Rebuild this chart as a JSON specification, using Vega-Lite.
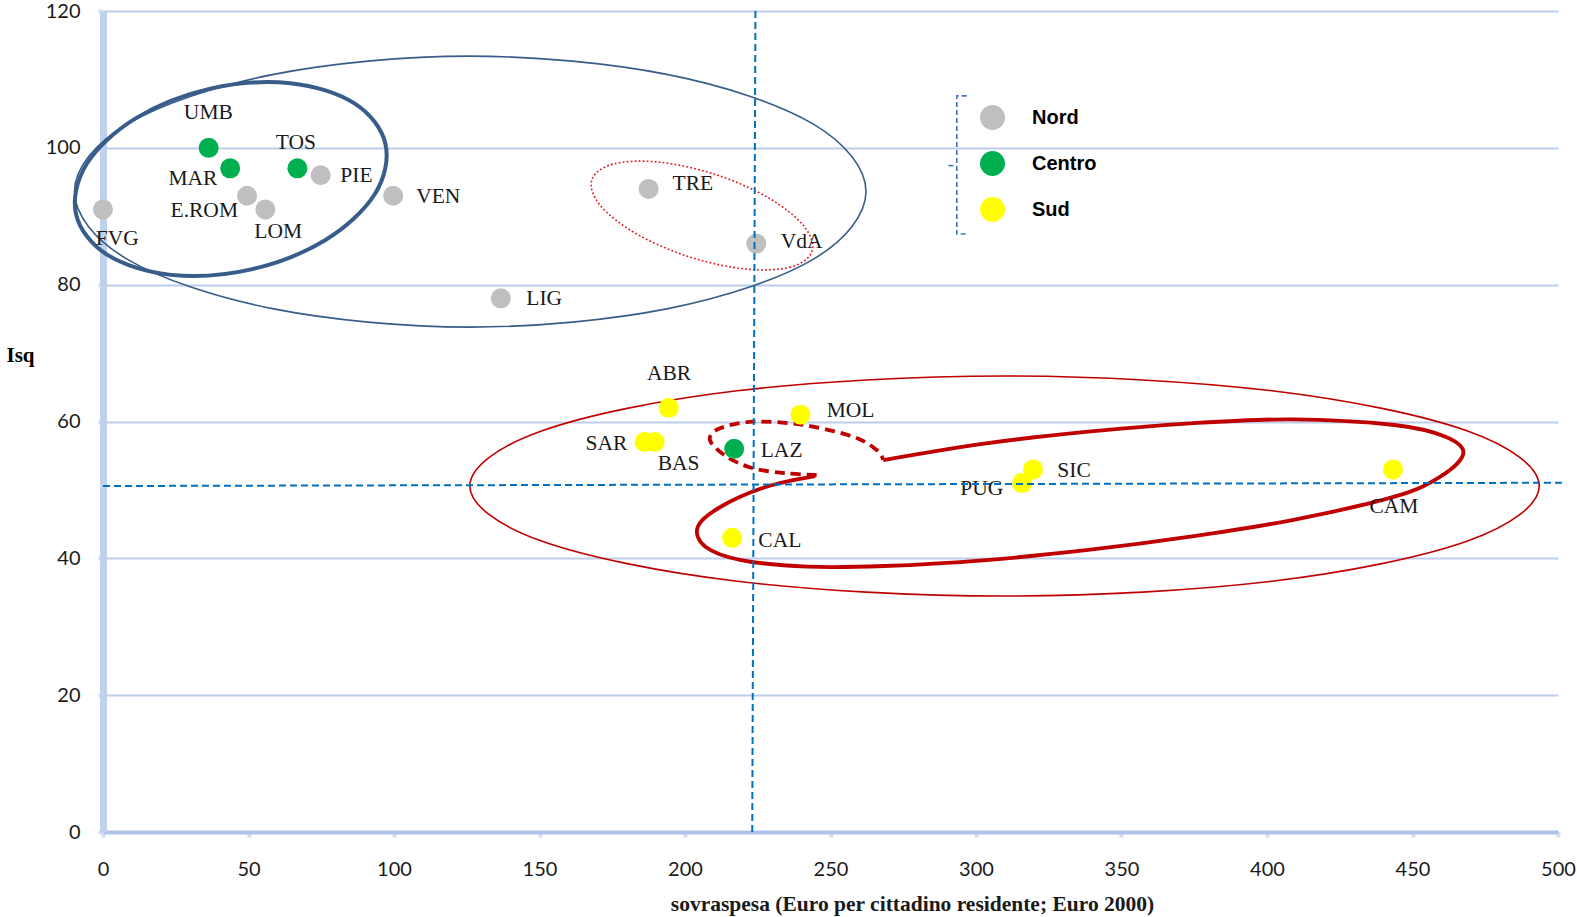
{
"$schema": "https://vega.github.io/schema/vega-lite/v6.json",
"width": 1455, "height": 821,
"autosize": {"type": "none"},
"padding": {"left": 103, "top": 11, "right": 19, "bottom": 85},
"background": "white",
"datasets": {
"pts": [
{"reg":"FVG","area":"Nord","x":0,"y":91},
{"reg":"UMB","area":"Centro","x":36.3,"y":100},
{"reg":"MAR","area":"Centro","x":43.7,"y":97},
{"reg":"TOS","area":"Centro","x":66.8,"y":97},
{"reg":"PIE","area":"Nord","x":74.8,"y":96},
{"reg":"E.ROM","area":"Nord","x":49.5,"y":93},
{"reg":"LOM","area":"Nord","x":55.8,"y":91},
{"reg":"VEN","area":"Nord","x":99.7,"y":93},
{"reg":"LIG","area":"Nord","x":136.7,"y":78},
{"reg":"TRE","area":"Nord","x":187.5,"y":94},
{"reg":"VdA","area":"Nord","x":224.5,"y":86},
{"reg":"ABR","area":"Sud","x":194.4,"y":62},
{"reg":"MOL","area":"Sud","x":239.7,"y":61},
{"reg":"SAR","area":"Sud","x":186.1,"y":57},
{"reg":"BAS","area":"Sud","x":189.6,"y":57},
{"reg":"LAZ","area":"Centro","x":216.9,"y":56},
{"reg":"SIC","area":"Sud","x":319.6,"y":53},
{"reg":"PUG","area":"Sud","x":315.8,"y":51},
{"reg":"CAM","area":"Sud","x":443.3,"y":53},
{"reg":"CAL","area":"Sud","x":216.2,"y":43}
],
"labs": [
{"reg":"FVG","x":4.9,"y":86.7},
{"reg":"UMB","x":36.2,"y":105.1},
{"reg":"MAR","x":30.9,"y":95.5},
{"reg":"TOS","x":66.3,"y":100.7},
{"reg":"PIE","x":87.1,"y":95.9},
{"reg":"E.ROM","x":34.8,"y":90.7},
{"reg":"LOM","x":60.2,"y":87.7},
{"reg":"VEN","x":115.2,"y":92.85},
{"reg":"LIG","x":151.6,"y":77.9},
{"reg":"TRE","x":202.7,"y":94.7},
{"reg":"VdA","x":240.1,"y":86.3},
{"reg":"ABR","x":194.5,"y":66.9},
{"reg":"MOL","x":256.9,"y":61.5},
{"reg":"SAR","x":173.0,"y":56.7},
{"reg":"BAS","x":197.8,"y":53.8},
{"reg":"LAZ","x":233.2,"y":55.7},
{"reg":"SIC","x":333.7,"y":52.8},
{"reg":"PUG","x":302.0,"y":50.1},
{"reg":"CAM","x":443.6,"y":47.5},
{"reg":"CAL","x":232.6,"y":42.6}
],
"shapes": [
{"s":"e1","i":0,"x":262.2,"y":93.6},{"s":"e1","i":1,"x":244.0,"y":103.5},{"s":"e1","i":2,"x":194.2,"y":110.7},{"s":"e1","i":3,"x":126.2,"y":113.4},{"s":"e1","i":4,"x":58.2,"y":110.7},{"s":"e1","i":5,"x":8.4,"y":103.5},{"s":"e1","i":6,"x":-9.8,"y":93.6},{"s":"e1","i":7,"x":8.4,"y":83.7},{"s":"e1","i":8,"x":58.2,"y":76.5},{"s":"e1","i":9,"x":126.2,"y":73.8},{"s":"e1","i":10,"x":194.2,"y":76.5},{"s":"e1","i":11,"x":244.0,"y":83.7},
{"s":"e2","i":0,"x":97.06,"y":100.57},{"s":"e2","i":1,"x":86.41,"y":106.49},{"s":"e2","i":2,"x":64.37,"y":109.45},{"s":"e2","i":3,"x":36.84,"y":108.65},{"s":"e2","i":4,"x":11.2,"y":104.31},{"s":"e2","i":5,"x":-5.67,"y":97.6},{"s":"e2","i":6,"x":-9.26,"y":90.3},{"s":"e2","i":7,"x":1.39,"y":84.39},{"s":"e2","i":8,"x":23.43,"y":81.43},{"s":"e2","i":9,"x":50.96,"y":82.23},{"s":"e2","i":10,"x":76.59,"y":86.57},{"s":"e2","i":11,"x":93.47,"y":93.28},
{"s":"e3","i":0,"x":243.62,"y":84.87},{"s":"e3","i":1,"x":236.26,"y":82.57},{"s":"e3","i":2,"x":220.73,"y":82.29},{"s":"e3","i":3,"x":201.21,"y":84.1},{"s":"e3","i":4,"x":182.92,"y":87.53},{"s":"e3","i":5,"x":170.76,"y":91.64},{"s":"e3","i":6,"x":168.0,"y":95.34},{"s":"e3","i":7,"x":175.36,"y":97.64},{"s":"e3","i":8,"x":190.89,"y":97.92},{"s":"e3","i":9,"x":210.41,"y":96.11},{"s":"e3","i":10,"x":228.7,"y":92.69},{"s":"e3","i":11,"x":240.86,"y":88.57},
{"s":"e4","i":0,"x":493.54,"y":50.57},{"s":"e4","i":1,"x":468.92,"y":58.61},{"s":"e4","i":2,"x":401.67,"y":64.49},{"s":"e4","i":3,"x":309.8,"y":66.65},{"s":"e4","i":4,"x":217.93,"y":64.49},{"s":"e4","i":5,"x":150.68,"y":58.61},{"s":"e4","i":6,"x":126.06,"y":50.57},{"s":"e4","i":7,"x":150.68,"y":42.53},{"s":"e4","i":8,"x":217.93,"y":36.65},{"s":"e4","i":9,"x":309.8,"y":34.49},{"s":"e4","i":10,"x":401.67,"y":36.65},{"s":"e4","i":11,"x":468.92,"y":42.53},
{"s":"sd","i":0,"x":245.24,"y":52.18},{"s":"sd","i":1,"x":234.93,"y":52.43},{"s":"sd","i":2,"x":223.44,"y":53.16},{"s":"sd","i":3,"x":214.3,"y":54.85},{"s":"sd","i":4,"x":208.56,"y":57.29},{"s":"sd","i":5,"x":212.0,"y":59.0},{"s":"sd","i":6,"x":223.44,"y":59.97},{"s":"sd","i":7,"x":240.63,"y":59.49},{"s":"sd","i":8,"x":257.82,"y":57.78},{"s":"sd","i":9,"x":265.87,"y":55.83},{"s":"sd","i":10,"x":268.13,"y":54.37},
{"s":"ss","i":0,"x":268.13,"y":54.37},{"s":"ss","i":1,"x":303.47,"y":56.81},{"s":"ss","i":2,"x":338.57,"y":58.51},{"s":"ss","i":3,"x":373.64,"y":59.73},{"s":"ss","i":4,"x":408.7,"y":60.32},{"s":"ss","i":5,"x":443.79,"y":59.49},{"s":"ss","i":6,"x":461.33,"y":57.78},{"s":"ss","i":7,"x":467.48,"y":55.35},{"s":"ss","i":8,"x":459.57,"y":51.93},{"s":"ss","i":9,"x":443.79,"y":49.01},{"s":"ss","i":10,"x":408.7,"y":45.6},{"s":"ss","i":11,"x":373.64,"y":43.16},{"s":"ss","i":12,"x":338.57,"y":41.22},{"s":"ss","i":13,"x":303.47,"y":39.75},{"s":"ss","i":14,"x":268.41,"y":38.88},{"s":"ss","i":15,"x":242.11,"y":38.78},{"s":"ss","i":16,"x":219.28,"y":39.75},{"s":"ss","i":17,"x":207.01,"y":41.7},{"s":"ss","i":18,"x":204.4,"y":44.62},{"s":"ss","i":19,"x":212.27,"y":47.54},{"s":"ss","i":20,"x":228.05,"y":50.47},{"s":"ss","i":21,"x":244.72,"y":52.03},
{"s":"br","i":0,"x":296.8,"y":107.6},{"s":"br","i":1,"x":293.4,"y":107.6},{"s":"br","i":2,"x":293.4,"y":87.4},{"s":"br","i":3,"x":296.8,"y":87.4},
{"s":"bm","i":0,"x":290.5,"y":97.4},{"s":"bm","i":1,"x":292.6,"y":97.4}
],
"refs": [
{"x":224.2,"y":120,"x2":223.1,"y2":0},
{"x":0,"y":50.57,"x2":502.8,"y2":51.05}
]
},
"encoding": {
  "x":{"field":"x","type":"quantitative","scale":{"domain":[0,500],"nice":false,"zero":false},
   "axis":{"values":[0,50,100,150,200,250,300,350,400,450,500],"title":"sovraspesa (Euro per cittadino residente; Euro 2000)","grid":false,
    "domainColor":"#adc3ea","domainWidth":4,"tickColor":"#d3def2","tickSize":5,"tickWidth":4,
    "labelFont":"Lato","labelFontSize":20,"labelColor":"#1a1a1a","labelPadding":32,"labelBaseline":"middle","labelFlush":false,
    "titleFont":"Liberation Serif","titleFontSize":21.5,"titleFontWeight":"bold","titleColor":"#1a1a1a","titleX":809,"titleY":72,"titleAlign":"center","titleBaseline":"middle"}},
  "y":{"field":"y","type":"quantitative","scale":{"domain":[0,120],"nice":false,"zero":false},
   "axis":{"values":[0,20,40,60,80,100,120],"title":"Isq","grid":true,"gridColor":"#bccdec","gridWidth":2,
    "domainColor":"#c0d1ee","domainWidth":7,"tickColor":"#d3def2","tickSize":5,"tickWidth":4,
    "labelFont":"Lato","labelFontSize":20,"labelColor":"#1a1a1a","labelPadding":18,"labelFlush":false,
    "titleFont":"Liberation Serif","titleFontSize":21,"titleFontWeight":"bold","titleColor":"#000000","titleAngle":0,"titleX":-83,"titleY":344,"titleAlign":"center","titleBaseline":"middle"}}
},
"layer": [
{"data":{"name":"shapes"},"transform":[{"filter":"datum.s === 'e1'"}],
 "mark":{"type":"line","interpolate":"cardinal-closed","stroke":"#385d8a","strokeWidth":1.6},
 "encoding":{"order":{"field":"i","type":"quantitative"}}},
{"data":{"name":"shapes"},"transform":[{"filter":"datum.s === 'e2'"}],
 "mark":{"type":"line","interpolate":"cardinal-closed","stroke":"#385d8a","strokeWidth":4},
 "encoding":{"order":{"field":"i","type":"quantitative"}}},
{"data":{"name":"shapes"},"transform":[{"filter":"datum.s === 'e3'"}],
 "mark":{"type":"line","interpolate":"cardinal-closed","stroke":"#e8141b","strokeWidth":1.6,"strokeDash":[1.8,2.2]},
 "encoding":{"order":{"field":"i","type":"quantitative"}}},
{"data":{"name":"shapes"},"transform":[{"filter":"datum.s === 'e4'"}],
 "mark":{"type":"line","interpolate":"cardinal-closed","stroke":"#c00000","strokeWidth":1.6},
 "encoding":{"order":{"field":"i","type":"quantitative"}}},
{"data":{"name":"shapes"},"transform":[{"filter":"datum.s === 'sd'"}],
 "mark":{"type":"line","interpolate":"cardinal","stroke":"#c00000","strokeWidth":3.8,"strokeDash":[10,6]},
 "encoding":{"order":{"field":"i","type":"quantitative"}}},
{"data":{"name":"shapes"},"transform":[{"filter":"datum.s === 'ss'"}],
 "mark":{"type":"line","interpolate":"cardinal","stroke":"#c00000","strokeWidth":3.8},
 "encoding":{"order":{"field":"i","type":"quantitative"}}},
{"data":{"name":"shapes"},"transform":[{"filter":"datum.s === 'br' || datum.s === 'bm'"}],
 "mark":{"type":"line","interpolate":"linear","stroke":"#4472c4","strokeWidth":1.6,"strokeDash":[5,3]},
 "encoding":{"detail":{"field":"s","type":"nominal"},"order":{"field":"i","type":"quantitative"}}},
{"data":{"name":"pts"},
 "mark":{"type":"circle","size":400,"opacity":1},
 "encoding":{
  "color":{"field":"area","type":"nominal","scale":{"domain":["Nord","Centro","Sud"],"range":["#bfbfbf","#00b050","#ffff00"]},
   "legend":{"orient":"none","legendX":877,"legendY":94,"title":null,"symbolType":"circle","symbolSize":625,"symbolStrokeWidth":0,"symbolOpacity":1,
    "labelFont":"Liberation Sans","labelFontSize":20,"labelFontWeight":"bold","labelColor":"#000000","labelOffset":27,"rowPadding":21,"padding":0}}
 }},
{"data":{"name":"labs"},
 "mark":{"type":"text","font":"Liberation Serif","fontSize":21.5,"color":"#1a1a1a","align":"center","baseline":"middle"},
 "encoding":{"text":{"field":"reg"}}},
{"data":{"name":"refs"},
 "mark":{"type":"rule","stroke":"#0070c0","strokeWidth":2,"strokeDash":[7,4]},
 "encoding":{"x2":{"field":"x2"},"y2":{"field":"y2"}}}
],
"config": {"view": {"stroke": null}}
}
